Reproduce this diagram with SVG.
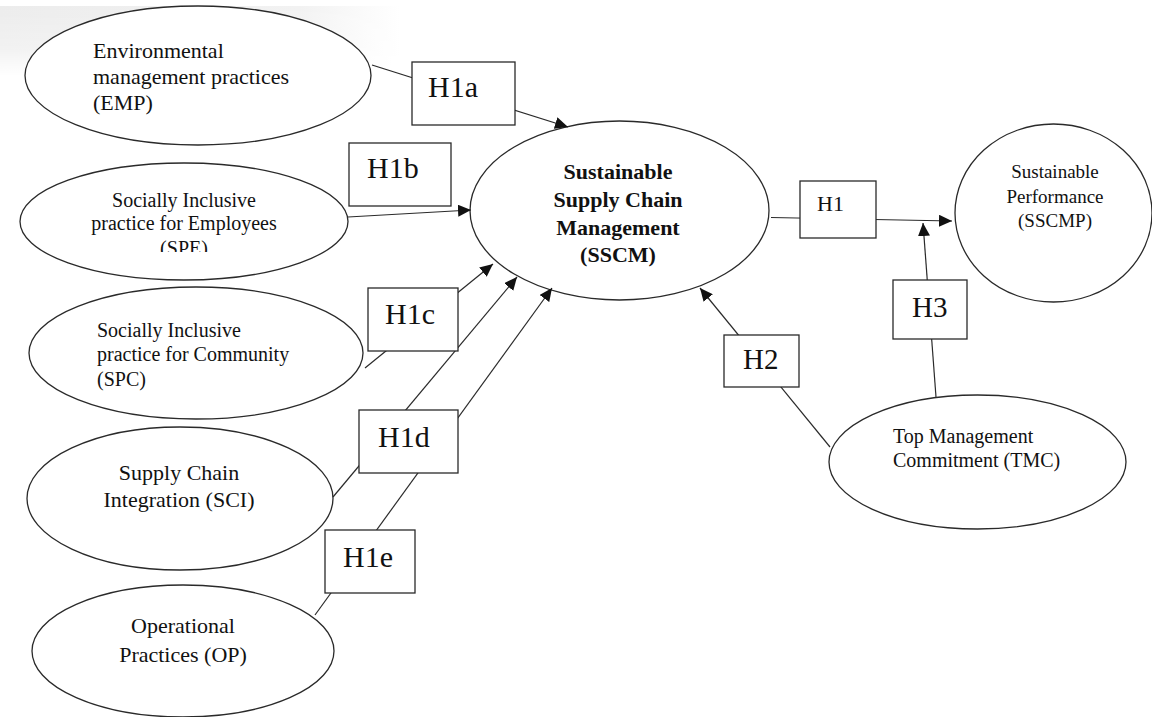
<svg xmlns="http://www.w3.org/2000/svg" width="1152" height="717" viewBox="0 0 1152 717">
  <defs>
    <style>
      .node { fill: #ffffff; stroke: #2a2a2a; stroke-width: 1.3; }
      .box { fill: #ffffff; stroke: #2a2a2a; stroke-width: 1.3; }
      .edge { fill: none; stroke: #2a2a2a; stroke-width: 1.2; }
      .t { font-family: "Liberation Serif", "Times New Roman", serif; fill: #111111; }
      .b { font-weight: bold; }
    </style>
    <marker id="ah" markerUnits="userSpaceOnUse" markerWidth="14" markerHeight="12" refX="13" refY="6" orient="auto">
      <path d="M0,0 L13,6 L0,12 z" fill="#111111"/>
    </marker>
    <linearGradient id="gh" x1="0" y1="0" x2="1" y2="0">
      <stop offset="0" stop-color="#ececec"/>
      <stop offset="0.75" stop-color="#f2f2f2"/>
      <stop offset="1" stop-color="#ffffff"/>
    </linearGradient>
    <linearGradient id="gv" x1="0" y1="0" x2="0" y2="1">
      <stop offset="0" stop-color="#ffffff"/>
      <stop offset="0.6" stop-color="#ffffff" stop-opacity="0.7"/>
      <stop offset="1" stop-color="#ffffff" stop-opacity="0"/>
    </linearGradient>
    <mask id="mv">
      <rect x="0" y="6" width="400" height="70" fill="url(#gv)"/>
    </mask>
    <clipPath id="speclip">
      <rect x="0" y="0" width="1152" height="252"/>
    </clipPath>
  </defs>

  <rect x="0" y="0" width="1152" height="717" fill="#ffffff"/>
  <rect x="0" y="6" width="400" height="70" fill="url(#gh)" mask="url(#mv)"/>

  <g id="EMP">
    <ellipse class="node" cx="198" cy="75.5" rx="173" ry="69.5"/>
    <text class="t" font-size="22" x="93" y="58">Environmental</text>
    <text class="t" font-size="22" x="93" y="84">management practices</text>
    <text class="t" font-size="22" x="93" y="110">(EMP)</text>
  </g>

  <g id="SPE">
    <ellipse class="node" cx="184" cy="221.5" rx="164" ry="58.5"/>
    <text class="t" font-size="20" x="184" y="207" text-anchor="middle">Socially Inclusive</text>
    <text class="t" font-size="20" x="184" y="230" text-anchor="middle">practice for Employees</text>
    <text class="t" font-size="20" x="184" y="255" text-anchor="middle" clip-path="url(#speclip)">(SPE)</text>
  </g>

  <g id="SPC">
    <ellipse class="node" cx="196" cy="353" rx="167" ry="66"/>
    <text class="t" font-size="20" x="97" y="337">Socially Inclusive</text>
    <text class="t" font-size="20" x="97" y="361">practice for Community</text>
    <text class="t" font-size="20" x="97" y="386">(SPC)</text>
  </g>

  <g id="SCI">
    <ellipse class="node" cx="180" cy="498.5" rx="153" ry="71.5"/>
    <text class="t" font-size="22" x="179" y="480" text-anchor="middle">Supply Chain</text>
    <text class="t" font-size="22" x="179" y="507" text-anchor="middle">Integration (SCI)</text>
  </g>

  <g id="OP">
    <ellipse class="node" cx="183" cy="651" rx="151" ry="66"/>
    <text class="t" font-size="22" x="183" y="633" text-anchor="middle">Operational</text>
    <text class="t" font-size="22" x="183" y="662" text-anchor="middle">Practices (OP)</text>
  </g>

  <g id="SSCM">
    <ellipse class="node" cx="619.5" cy="210.5" rx="149.5" ry="89.5"/>
    <text class="t b" font-size="22" x="618" y="179" text-anchor="middle">Sustainable</text>
    <text class="t b" font-size="22" x="618" y="207" text-anchor="middle">Supply Chain</text>
    <text class="t b" font-size="22" x="618" y="235" text-anchor="middle">Management</text>
    <text class="t b" font-size="22" x="618" y="262" text-anchor="middle">(SSCM)</text>
  </g>

  <g id="SSCMP">
    <ellipse class="node" cx="1053.5" cy="213" rx="98.5" ry="89"/>
    <text class="t" font-size="19" x="1055" y="178" text-anchor="middle">Sustainable</text>
    <text class="t" font-size="19" x="1055" y="203" text-anchor="middle">Performance</text>
    <text class="t" font-size="19" x="1055" y="227" text-anchor="middle">(SSCMP)</text>
  </g>

  <g id="TMC">
    <ellipse class="node" cx="977.5" cy="462" rx="148.5" ry="67"/>
    <text class="t" font-size="20" x="893" y="443">Top Management</text>
    <text class="t" font-size="20" x="893" y="467">Commitment (TMC)</text>
  </g>

  <g id="connectors">
    <line class="edge" x1="372" y1="65" x2="568" y2="127" marker-end="url(#ah)"/>
    <line class="edge" x1="348" y1="217" x2="471" y2="210" marker-end="url(#ah)"/>
    <line class="edge" x1="365" y1="368" x2="493" y2="264" marker-end="url(#ah)"/>
    <line class="edge" x1="333" y1="497" x2="517" y2="277" marker-end="url(#ah)"/>
    <line class="edge" x1="315" y1="615" x2="552" y2="288" marker-end="url(#ah)"/>
    <line class="edge" x1="771" y1="217.5" x2="952" y2="221" marker-end="url(#ah)"/>
    <line class="edge" x1="936" y1="397" x2="923" y2="223" marker-end="url(#ah)"/>
    <line class="edge" x1="830" y1="447" x2="700" y2="288" marker-end="url(#ah)"/>
  </g>

  <g id="label-H1a">
    <rect class="box" x="412" y="62" width="103" height="63"/>
    <text class="t" font-size="30" x="428" y="97">H1a</text>
  </g>
  <g id="label-H1b">
    <rect class="box" x="349" y="143" width="102" height="63"/>
    <text class="t" font-size="30" x="367" y="178">H1b</text>
  </g>
  <g id="label-H1c">
    <rect class="box" x="368" y="288" width="90" height="63"/>
    <text class="t" font-size="30" x="385" y="324">H1c</text>
  </g>
  <g id="label-H1d">
    <rect class="box" x="359" y="410" width="99" height="63"/>
    <text class="t" font-size="30" x="378" y="447">H1d</text>
  </g>
  <g id="label-H1e">
    <rect class="box" x="325" y="530" width="90" height="63"/>
    <text class="t" font-size="30" x="343" y="567">H1e</text>
  </g>
  <g id="label-H1">
    <rect class="box" x="800" y="181" width="76" height="57"/>
    <text class="t" font-size="22" x="817" y="211">H1</text>
  </g>
  <g id="label-H2">
    <rect class="box" x="724" y="335" width="75" height="52"/>
    <text class="t" font-size="29" x="743" y="369">H2</text>
  </g>
  <g id="label-H3">
    <rect class="box" x="893" y="280" width="74" height="59"/>
    <text class="t" font-size="29" x="912" y="317">H3</text>
  </g>
</svg>
